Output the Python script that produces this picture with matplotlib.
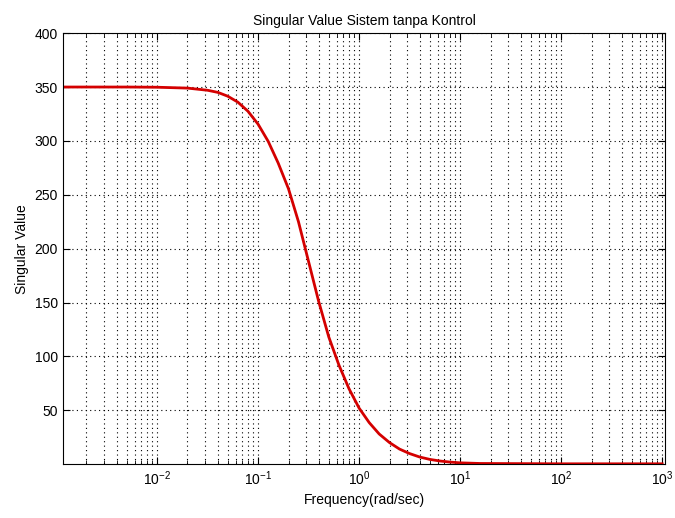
import numpy as np
import matplotlib.pyplot as plt
from matplotlib.ticker import LogLocator, NullFormatter

# values
freq = [0.00117, 0.005, 0.01, 0.02, 0.0316, 0.04, 0.05, 0.063, 0.0794, 0.1,
        0.126, 0.158, 0.2, 0.251, 0.316, 0.398, 0.501, 0.631, 0.794,
        1.0, 1.26, 1.58, 2.0, 2.51, 3.16, 3.98, 5.01, 6.31, 7.94, 10, 15.8,
        100, 1000]
sv = [350, 350, 349.8, 349, 347, 345, 341.5, 336, 327.5, 315.5,
      299.5, 279.5, 255.5, 225, 188, 151, 118, 92, 70,
      52, 38.5, 28, 20, 14, 9.8, 6.6, 4.4, 2.9, 1.9, 1.2, 0.6,
      0.3, 0.3]
yticks = [50, 100, 150, 200, 250, 300, 350, 400]

plt.rcParams['font.family'] = ['Liberation Sans', 'DejaVu Sans']
plt.rcParams['font.size'] = 10

fig = plt.figure(figsize=(6.75, 5.18), dpi=100)
ax = fig.add_axes([0.0933, 0.104, 0.892, 0.832])

ax.semilogx(freq, sv, color='#d40000', linewidth=2)

ax.set_xlim(1.17e-3, 1.07e3)
ax.set_ylim(0, 400)
ax.set_yticks(yticks)
ax.xaxis.set_major_locator(LogLocator(base=10, numticks=12))
ax.xaxis.set_minor_locator(LogLocator(base=10, subs=np.arange(2, 10), numticks=12))
ax.xaxis.set_minor_formatter(NullFormatter())

ax.grid(True, which='major', linestyle=(0, (1, 3)), color='black', linewidth=0.8)
ax.grid(True, which='minor', axis='x', linestyle=(0, (1, 3)), color='black', linewidth=0.8)
ax.tick_params(which='both', direction='in', top=True, right=True)
ax.tick_params(which='major', length=5)
ax.tick_params(which='minor', length=3)
for s in ax.spines.values():
    s.set_linewidth(0.8)

ax.set_title('Singular Value Sistem tanpa Kontrol', fontsize=10)
ax.set_xlabel('Frequency(rad/sec)')
ax.set_ylabel('Singular Value')

fig.savefig('out.png', dpi=100)
